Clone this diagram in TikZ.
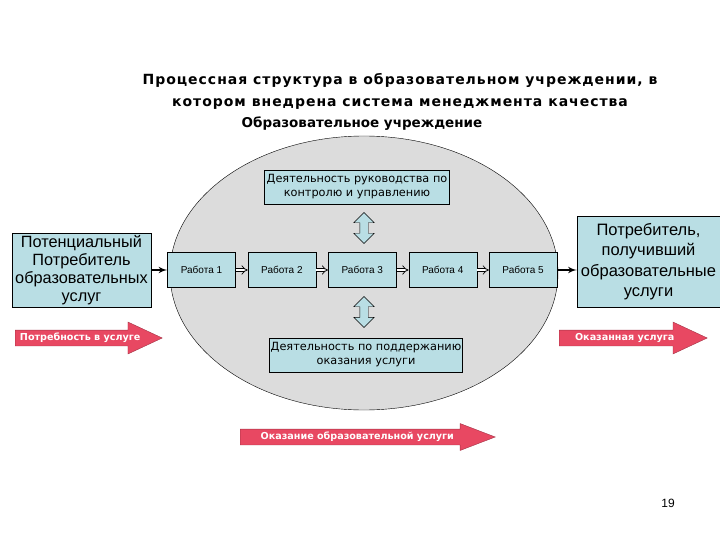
\documentclass[tikz,border=0pt]{standalone}
\usepackage{fontspec}
\setmainfont{Liberation Sans}
\newfontfamily\dejavu{DejaVu Sans}
\newfontfamily\titlefont{DejaVu Sans}[LetterSpace=7]
\usepackage{tikz}
\usetikzlibrary{arrows, shapes, shapes.arrows, positioning}
\definecolor{boxcyan}{RGB}{185,222,228}
\definecolor{ovalgrey}{RGB}{220,220,220}
\definecolor{arrowred}{RGB}{232,72,98}

\begin{document}
\begin{tikzpicture}[x=1pt,y=-1pt,semithick,node distance=12pt,
                    box/.style={draw,fill=boxcyan,thin,inner sep=1pt,align=center},
                    job/.style={box,minimum width=68pt,minimum height=35pt,font=\fontsize{10}{12}\selectfont},
                    flow/.style={draw,double=white,double distance=2.5pt,line width=0.7pt,-implies},
                    updown/.style={double arrow,draw,fill=boxcyan,thin,rotate=90,minimum height=31pt,
                                   inner sep=4pt,double arrow head extend=6pt}]
  \tikzstyle{redarrow}=[single arrow,anchor=tail,fill=arrowred,draw=arrowred!70!black,thin,text=white,
                        font=\dejavu\bfseries\fontsize{9.6}{10}\selectfont,single arrow tip angle=50,
                        single arrow head extend=8pt,inner ysep=4pt,text height=6pt,text depth=1.5pt]

  \useasboundingbox (0,0) rectangle (720,540);

  \node (title) at (400,91) [align=center,font=\titlefont\bfseries\fontsize{14}{22}\selectfont]
        {Процессная структура в образовательном учреждении, в\\
         котором внедрена система менеджмента качества};
  \node (school) at (362,124) [font=\dejavu\bfseries\fontsize{13.5}{15}\selectfont] {Образовательное учреждение};

  \node[ellipse,draw,fill=ovalgrey,thin,minimum width=388pt,minimum height=274pt] (oval) at (364,273) {};

  \node[box,minimum width=185pt,minimum height=34pt,font=\dejavu\fontsize{11.3}{14}\selectfont]
        (control) at (357,187) {Деятельность руководства по\\ контролю и управлению};
  \node[box,minimum width=192pt,minimum height=34pt,font=\dejavu\fontsize{11.3}{14}\selectfont]
        (support) at (366,355) {Деятельность по поддержанию\\ оказания услуги};

  \node[updown] (updown1) at (364,228) {};
  \node[updown] (updown2) at (364,312) {};

  \node[job] (r1) at (201.5,270) {Работа 1};
  \node[job] (r2) [right=of r1]   {Работа 2};
  \node[job] (r3) [right=of r2]   {Работа 3};
  \node[job] (r4) [right=of r3]   {Работа 4};
  \node[job] (r5) [right=of r4]   {Работа 5};

  \node[box,minimum width=139pt,minimum height=74pt,font=\fontsize{16.3}{18}\selectfont]
        (client) at (81.5,270) {Потенциальный\\ Потребитель\\ образовательных\\ услуг};
  \node[box,minimum width=143pt,minimum height=91pt,font=\fontsize{16.5}{20.5}\selectfont]
        (served) at (648.5,261.5) {Потребитель,\\ получивший\\ образовательные\\ услуги};

  \draw[flow] (r1.east) -- (r2.west);
  \draw[flow] (r2.east) -- (r3.west);
  \draw[flow] (r3.east) -- (r4.west);
  \draw[flow] (r4.east) -- (r5.west);
  \path[->,>=latex',line width=2pt]
        (client) edge (r1)
        (r5.east) edge (r5.east -| served.west);

  \node[redarrow,minimum height=147pt] (need) at (15,338) {Потребность в услуге};
  \node[redarrow,minimum height=148pt] (done) at (559,338) {Оказанная услуга};
  \node[redarrow,minimum height=255pt,single arrow head extend=5.5pt,single arrow tip angle=42]
        (service) at (240,437) {Оказание образовательной услуги};

  \node (page) at (668,503) [font=\fontsize{12}{14}\selectfont] {19};
\end{tikzpicture}
\end{document}
